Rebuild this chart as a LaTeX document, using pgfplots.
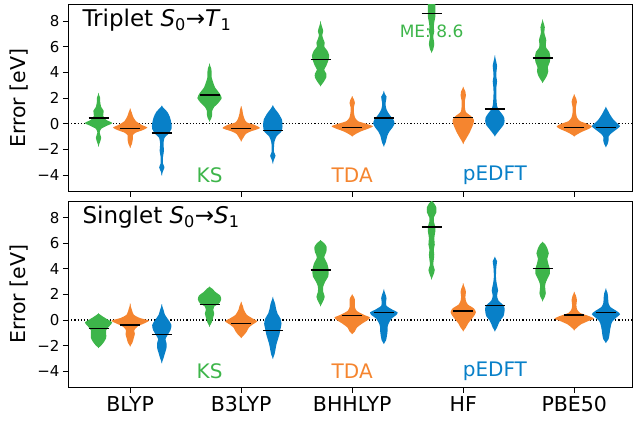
\documentclass[border=0pt]{standalone}
\usepackage{fontspec}
\setmainfont{DejaVu Sans}
\usepackage{pgfplots}
\pgfplotsset{compat=1.18}

\definecolor{ksg}{RGB}{61,181,74}
\definecolor{tdao}{RGB}{245,133,47}
\definecolor{edb}{RGB}{8,128,200}

% one violin: centre, colour, rows "y halfwidth(px)"
\newcommand{\vio}[3]{%
  \addplot[draw=none, fill=#2, smooth, tension=0.4] table[row sep=\\, x expr=#1+\thisrow{w}/111-0.003, y=y] {y w\\ #3};
  \addplot[draw=none, fill=#2, smooth, tension=0.4] table[row sep=\\, x expr=#1-\thisrow{w}/111+0.003, y=y] {y w\\ #3};
}
\newcommand{\mean}[2]{\addplot[black, line width=1.3pt] coordinates {(#1-0.09,#2) (#1+0.09,#2)};}

\pgfplotsset{panel/.style={
  scale only axis, width=564pt,
  xmin=-0.56, xmax=4.52, ymin=-5.3, ymax=9.3,
  xtick={0,1,2,3,4},
  ytick={-4,-2,0,2,4,6,8}, yticklabels={−4,−2,0,2,4,6,8},
  tick align=outside, xtick pos=bottom, ytick pos=left,
  major tick length=5pt,
  tick style={black, line width=0.8pt},
  axis line style={black, line width=0.8pt},
  ylabel={Error [eV]},
  ylabel style={at={(axis description cs:-0.0869,0.5)}, anchor=center, font=\fontsize{20.5}{24}\selectfont},
  yticklabel style={font=\fontsize{15}{17}\selectfont},
  xticklabel style={font=\fontsize{20.5}{24}\selectfont},
}}

\begin{document}
\begin{tikzpicture}
\path[use as bounding box] (0pt,0pt) rectangle (633pt,-423pt);

% ---------------- triplet ----------------
\begin{axis}[panel, at={(68pt,-4.3pt)}, anchor=north west, height=187.4pt, xticklabels={}]
\addplot[black, line width=1.2pt, dash pattern=on 1.2pt off 2pt] coordinates {(-0.56,0) (4.52,0)};
% BLYP
\vio{-0.285}{ksg}{-1.8 0\\ -1.5 1.5\\ -1.1 3\\ -0.7 1.5\\ -0.4 3\\ -0.15 9\\ 0.05 14\\ 0.3 8\\ 0.6 5\\ 1.0 5.5\\ 1.3 3\\ 1.7 2\\ 2.0 2\\ 2.4 0\\}
\vio{0}{tdao}{-1.9 0\\ -1.6 2\\ -1.2 3\\ -0.9 3\\ -0.7 6\\ -0.5 13\\ -0.3 17.5\\ -0.1 12\\ 0.2 6\\ 0.6 3\\ 0.9 1.8\\ 1.2 0\\}
\vio{0.285}{edb}{-4.05 0\\ -3.7 1.5\\ -3.4 3\\ -3.1 1.5\\ -2.6 1.5\\ -2.1 2.5\\ -1.6 2\\ -1.1 3\\ -0.8 7\\ -0.4 10\\ 0.0 10\\ 0.5 8.5\\ 0.9 6\\ 1.2 2.5\\ 1.4 0\\}
% B3LYP
\vio{0.715}{ksg}{0.15 0\\ 0.4 2\\ 0.7 3\\ 1.0 3\\ 1.3 5\\ 1.6 9\\ 2.0 12.5\\ 2.4 10\\ 2.8 6\\ 3.2 4\\ 3.6 2.5\\ 4.0 2.5\\ 4.3 2\\ 4.7 0\\}
\vio{1}{tdao}{-1.4 0\\ -1.1 2.5\\ -0.8 5\\ -0.6 10\\ -0.35 19\\ -0.1 14\\ 0.1 6\\ 0.4 3.5\\ 0.8 2\\ 1.1 1.5\\ 1.38 0\\}
\vio{1.285}{edb}{-3.15 0\\ -2.8 1.5\\ -2.5 3\\ -2.2 1.5\\ -1.8 1.5\\ -1.4 2\\ -1.0 4\\ -0.6 9\\ -0.2 10\\ 0.3 9.5\\ 0.8 6\\ 1.1 3\\ 1.45 0\\}
% BHHLYP
\vio{1.715}{ksg}{2.9 0\\ 3.2 3\\ 3.6 6\\ 3.9 6\\ 4.2 4\\ 4.5 6\\ 4.9 8\\ 5.3 9\\ 5.7 7\\ 6.0 4\\ 6.3 4.5\\ 6.6 3\\ 6.9 2\\ 7.2 3\\ 7.5 2\\ 8.0 0\\}
\vio{2}{tdao}{-1.0 0\\ -0.8 4\\ -0.6 9\\ -0.4 16\\ -0.2 21\\ 0.0 14\\ 0.2 6\\ 0.5 3\\ 0.9 2\\ 1.3 2\\ 1.6 3\\ 1.9 2\\ 2.15 0\\}
\vio{2.285}{edb}{-1.8 0\\ -1.5 2\\ -1.2 3\\ -0.9 4\\ -0.6 6\\ -0.3 9\\ 0.0 11\\ 0.3 10\\ 0.7 6\\ 1.1 3\\ 1.5 2\\ 1.8 2.5\\ 2.1 3\\ 2.3 1.5\\ 2.57 0\\}
% HF
\vio{2.715}{ksg}{5.5 0\\ 5.8 2\\ 6.2 3\\ 6.5 2.5\\ 6.8 2\\ 7.2 3\\ 7.5 2.5\\ 7.9 3\\ 8.3 4\\ 8.6 4\\ 9.0 4\\ 9.5 4\\ 10.0 3\\ 10.5 0\\}
\vio{3}{tdao}{-1.6 0\\ -1.2 3\\ -0.8 6\\ -0.4 8.5\\ 0.0 10.5\\ 0.3 11\\ 0.6 8\\ 0.9 3\\ 1.3 2\\ 1.8 2\\ 2.2 3\\ 2.5 2.5\\ 2.88 0\\}
\vio{3.285}{edb}{-1.0 0\\ -0.7 3\\ -0.4 6\\ -0.1 9\\ 0.2 10\\ 0.5 9.5\\ 0.8 7\\ 1.1 4\\ 1.4 2.5\\ 1.8 2\\ 2.3 1.7\\ 2.8 1.8\\ 3.3 2.5\\ 3.7 1.7\\ 4.1 2\\ 4.5 2.5\\ 4.9 1.5\\ 5.35 0\\}
% PBE50
\vio{3.715}{ksg}{3.15 0\\ 3.5 3\\ 3.8 5\\ 4.1 6\\ 4.4 5.5\\ 4.8 7.5\\ 5.2 8\\ 5.6 7\\ 5.9 4\\ 6.2 3.5\\ 6.5 4\\ 6.8 3\\ 7.1 2\\ 7.5 2.5\\ 7.8 1.5\\ 8.15 0\\}
\vio{4}{tdao}{-1.0 0\\ -0.8 4\\ -0.6 9\\ -0.4 15\\ -0.2 18\\ 0.0 13\\ 0.2 6\\ 0.5 3\\ 0.9 2\\ 1.3 2\\ 1.7 3\\ 2.0 2\\ 2.3 0\\}
\vio{4.285}{edb}{-1.85 0\\ -1.6 2\\ -1.3 3\\ -1.0 3\\ -0.8 5\\ -0.5 10\\ -0.2 14.5\\ 0.0 12\\ 0.3 8\\ 0.7 4.5\\ 1.0 2.5\\ 1.33 0\\}
% means
\mean{-0.285}{0.44} \mean{0}{-0.39} \mean{0.285}{-0.73}
\mean{0.715}{2.23} \mean{1}{-0.36} \mean{1.285}{-0.55}
\mean{1.715}{5.0} \mean{2}{-0.28} \mean{2.285}{0.44}
\mean{2.715}{8.6} \mean{3}{0.5} \mean{3.285}{1.15}
\mean{3.715}{5.12} \mean{4}{-0.31} \mean{4.285}{-0.31}
\node[anchor=base west, font=\fontsize{23}{27}\selectfont] at (rel axis cs:0,1) [xshift=11pt, yshift=-22.4pt] {Triplet \textit{S}\textsubscript{0}→\textit{T}\textsubscript{1}};
\node[text=ksg, font=\fontsize{17}{20}\selectfont] at (axis cs:2.715,7.17) {ME: 8.6};
\node[text=ksg, font=\fontsize{20}{23}\selectfont] at (axis cs:0.715,-4) {KS};
\node[text=tdao, font=\fontsize{20}{23}\selectfont] at (axis cs:2,-4) {TDA};
\node[text=edb, font=\fontsize{20}{23}\selectfont] at (axis cs:3.285,-4) {pEDFT};
\end{axis}

% ---------------- singlet ----------------
\begin{axis}[panel, at={(68pt,-201pt)}, anchor=north west, height=186.7pt, xticklabels={BLYP,B3LYP,BHHLYP,HF,PBE50}]
\addplot[black, line width=1.2pt, dash pattern=on 1.2pt off 2pt] coordinates {(-0.56,0) (4.52,0)};
% BLYP
\vio{-0.285}{ksg}{-2.2 0\\ -2.0 3\\ -1.7 6\\ -1.4 8\\ -1.1 8\\ -0.8 8\\ -0.5 11\\ -0.2 14\\ 0.1 8\\ 0.3 4\\ 0.52 0\\}
\vio{0}{tdao}{-2.08 0\\ -1.8 2.5\\ -1.4 4\\ -1.1 5\\ -0.8 4.5\\ -0.5 8\\ -0.25 15\\ -0.05 19\\ 0.15 10\\ 0.4 4\\ 0.8 2\\ 1.3 0\\}
\vio{0.285}{edb}{-3.4 0\\ -3.0 2\\ -2.6 3.5\\ -2.2 5\\ -1.8 5\\ -1.5 4\\ -1.2 6\\ -0.8 9\\ -0.4 10\\ 0.0 7\\ 0.4 3.5\\ 0.8 2\\ 1.23 0\\}
% B3LYP
\vio{0.715}{ksg}{-0.55 0\\ -0.2 2.5\\ 0.2 4\\ 0.5 5\\ 0.8 4\\ 1.05 5\\ 1.3 10\\ 1.6 12\\ 1.9 11\\ 2.2 6\\ 2.45 3\\ 2.6 0\\}
\vio{1}{tdao}{-1.43 0\\ -1.2 3\\ -0.9 6\\ -0.6 8\\ -0.35 12\\ -0.1 16.5\\ 0.1 12\\ 0.4 6\\ 0.8 3\\ 1.1 2\\ 1.43 0\\}
\vio{1.285}{edb}{-3.07 0\\ -2.7 2\\ -2.3 3\\ -1.9 4\\ -1.5 5.5\\ -1.1 7\\ -0.7 8\\ -0.3 9\\ 0.1 8\\ 0.5 5\\ 0.9 3.5\\ 1.3 2.5\\ 1.82 0\\}
% BHHLYP
\vio{1.715}{ksg}{1.05 0\\ 1.4 2.5\\ 1.8 4.5\\ 2.2 3\\ 2.6 3\\ 3.0 5\\ 3.4 8\\ 3.9 8.5\\ 4.4 7\\ 4.9 4\\ 5.3 6\\ 5.7 6.5\\ 6.0 4\\ 6.25 0\\}
\vio{2}{tdao}{-1.12 0\\ -0.9 3\\ -0.6 5\\ -0.3 10\\ 0.0 16\\ 0.2 18\\ 0.4 12\\ 0.7 5\\ 1.0 3\\ 1.3 3\\ 1.6 3\\ 1.8 2\\ 2.0 0\\}
\vio{2.285}{edb}{-1.9 0\\ -1.6 2.5\\ -1.2 3.5\\ -0.9 4\\ -0.6 4\\ -0.3 5\\ 0.1 8\\ 0.4 13\\ 0.6 14\\ 0.8 9\\ 1.1 3\\ 1.4 2.5\\ 1.7 3\\ 2.0 2\\ 2.42 0\\}
% HF
\vio{2.715}{ksg}{3.13 0\\ 3.5 2\\ 3.9 3.5\\ 4.3 2\\ 4.7 2.5\\ 5.1 3\\ 5.5 2.5\\ 5.9 3.5\\ 6.4 3\\ 6.9 4\\ 7.3 4\\ 7.7 2.5\\ 8.0 2.5\\ 8.4 5\\ 8.8 5\\ 9.1 3\\ 9.35 0\\}
\vio{3}{tdao}{-0.9 0\\ -0.6 3\\ -0.3 5\\ 0.0 8\\ 0.3 11\\ 0.6 13\\ 0.9 11\\ 1.2 5\\ 1.5 3\\ 1.8 2.5\\ 2.2 3\\ 2.5 2\\ 2.87 0\\}
\vio{3.285}{edb}{-0.92 0\\ -0.6 2.5\\ -0.3 4\\ 0.0 6\\ 0.3 9\\ 0.7 10\\ 1.1 9.5\\ 1.5 4\\ 1.9 2.5\\ 2.3 3.5\\ 2.7 2.5\\ 3.2 1.5\\ 3.8 1.5\\ 4.3 2\\ 4.6 2.5\\ 4.95 0\\}
% PBE50
\vio{3.715}{ksg}{1.43 0\\ 1.8 2.5\\ 2.1 3.5\\ 2.4 3\\ 2.8 3\\ 3.2 5\\ 3.6 7.5\\ 4.0 7.5\\ 4.4 6\\ 4.8 5\\ 5.2 6.5\\ 5.6 5\\ 5.9 3\\ 6.12 0\\}
\vio{4}{tdao}{-0.83 0\\ -0.6 3\\ -0.35 7\\ -0.1 14\\ 0.1 20\\ 0.3 15\\ 0.55 6\\ 0.85 3\\ 1.2 2.5\\ 1.55 3\\ 1.9 2\\ 2.21 0\\}
\vio{4.285}{edb}{-1.82 0\\ -1.5 3\\ -1.1 4\\ -0.8 4.5\\ -0.4 5.5\\ -0.1 7\\ 0.2 11\\ 0.45 14.5\\ 0.7 11\\ 1.0 5\\ 1.3 3\\ 1.8 2.5\\ 2.1 2\\ 2.48 0\\}
% means
\mean{-0.285}{-0.65} \mean{0}{-0.39} \mean{0.285}{-1.15}
\mean{0.715}{1.22} \mean{1}{-0.26} \mean{1.285}{-0.83}
\mean{1.715}{3.9} \mean{2}{0.34} \mean{2.285}{0.6}
\mean{2.715}{7.27} \mean{3}{0.7} \mean{3.285}{1.12}
\mean{3.715}{4.04} \mean{4}{0.39} \mean{4.285}{0.57}
\node[anchor=base west, font=\fontsize{23}{27}\selectfont] at (rel axis cs:0,1) [xshift=11pt, yshift=-22.4pt] {Singlet \textit{S}\textsubscript{0}→\textit{S}\textsubscript{1}};
\node[text=ksg, font=\fontsize{20}{23}\selectfont] at (axis cs:0.715,-4) {KS};
\node[text=tdao, font=\fontsize{20}{23}\selectfont] at (axis cs:2,-4) {TDA};
\node[text=edb, font=\fontsize{20}{23}\selectfont] at (axis cs:3.285,-4) {pEDFT};
\end{axis}
\end{tikzpicture}
\end{document}
